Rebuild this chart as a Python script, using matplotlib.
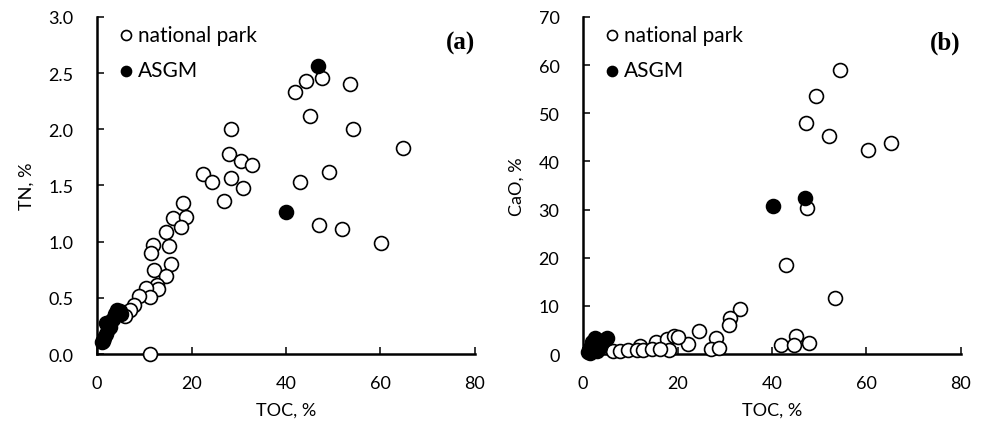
import matplotlib
matplotlib.use("Agg")
import matplotlib.pyplot as plt
import numpy as np

plt.rcParams['font.family'] = ['Lato', 'DejaVu Sans']

# ---- panel (a): TN vs TOC ----
tn_park_toc = [11.2, 18.2, 16.1, 18.9, 17.8, 14.5, 15.2, 11.9, 11.5, 15.7, 12.0, 14.7,
               12.8, 12.9, 10.3, 11.3, 8.8, 7.8, 6.9, 6.0, 22.5, 24.3, 28.4, 30.8,
               26.9, 28.4, 27.9, 30.5, 32.9, 41.8, 44.3, 47.6, 53.5, 45.0, 54.1, 64.8,
               49.1, 42.9, 46.9, 51.9, 60.1]
tn_park = [0.00, 1.34, 1.21, 1.22, 1.13, 1.09, 0.96, 0.97, 0.90, 0.80, 0.75, 0.69,
           0.61, 0.58, 0.59, 0.51, 0.52, 0.44, 0.39, 0.34, 1.60, 1.53, 1.57, 1.48,
           1.36, 2.00, 1.78, 1.72, 1.68, 2.33, 2.43, 2.46, 2.40, 2.12, 2.00, 1.83,
           1.62, 1.53, 1.15, 1.11, 0.99]
tn_asgm_toc = [1.0, 1.2, 1.5, 2.0, 2.0, 2.3, 2.5, 2.8, 3.0, 3.3, 3.8, 4.2, 4.8, 5.0, 40.1, 46.8]
tn_asgm = [0.11, 0.12, 0.14, 0.18, 0.28, 0.22, 0.27, 0.24, 0.29, 0.31, 0.36, 0.39, 0.38, 0.36, 1.26, 2.56]

# ---- panel (b): CaO vs TOC ----
cao_park_toc = [54.3, 49.3, 47.2, 52.1, 60.4, 65.1, 47.4, 43.0, 53.4, 33.2, 31.1, 30.8,
                24.5, 22.2, 28.1, 27.1, 28.7, 42.0, 45.1, 44.6, 47.9, 15.4, 17.8, 19.2,
                12.1, 18.1, 6.4, 7.8, 9.5, 11.4, 12.8, 14.7, 16.2, 20.0]
cao_park = [59.0, 53.5, 47.9, 45.3, 42.4, 43.8, 30.3, 18.5, 11.6, 9.3, 7.4, 6.0,
            4.8, 2.1, 3.4, 1.0, 1.2, 1.9, 3.7, 1.9, 2.3, 2.4, 3.1, 3.8,
            1.7, 0.9, 0.6, 0.7, 0.8, 0.9, 0.8, 1.0, 1.1, 3.5]
cao_asgm_toc = [1.0, 1.5, 1.5, 2.0, 2.0, 2.5, 3.0, 3.0, 3.5, 4.0, 4.5, 5.0, 40.3, 46.9]
cao_asgm = [0.5, 0.3, 1.2, 2.5, 0.8, 3.3, 2.0, 0.6, 1.5, 2.5, 3.0, 3.3, 30.7, 32.3]

fig = plt.figure(figsize=(9.84, 4.31), dpi=100)
ax1 = fig.add_axes([0.0986, 0.1763, 0.3841, 0.782])
ax2 = fig.add_axes([0.5925, 0.1763, 0.3841, 0.782])

ms = 100

def style(ax, ylim, yticks, ylabel, fmt, tag):
    ax.set_xlim(0, 80)
    ax.set_ylim(*ylim)
    ax.set_xticks([0, 20, 40, 60, 80])
    ax.set_yticks(yticks)
    ax.set_yticklabels([fmt.format(v) for v in yticks])
    for s in ['top', 'right']:
        ax.spines[s].set_visible(False)
    for s in ['left', 'bottom']:
        ax.spines[s].set_linewidth(1.8)
    ax.tick_params(direction='in', length=5, width=1.1, labelsize=13)
    ax.tick_params(axis='x', pad=15)
    ax.tick_params(axis='y', pad=17)
    ax.set_xlabel('TOC, %', fontsize=13, labelpad=8)
    ax.set_ylabel(ylabel, fontsize=13, labelpad=10)
    ax.text(1.0, 0.925, tag, transform=ax.transAxes, ha='right', va='center',
            fontsize=18, fontweight='bold', family='Liberation Serif')
    ax.legend(loc='upper left', bbox_to_anchor=(0.0, 1.02), frameon=False,
              fontsize=15, handletextpad=-0.15, handlelength=1.4, labelspacing=0.75,
              markerscale=0.72, borderaxespad=0.3)

ax1.scatter(tn_park_toc, tn_park, s=ms, facecolor='white', edgecolor='black',
            linewidth=1.2, clip_on=False, zorder=3, label='national park')
ax1.scatter(tn_asgm_toc, tn_asgm, s=ms, facecolor='black', edgecolor='black',
            linewidth=1.2, clip_on=False, zorder=4, label='ASGM')
style(ax1, (0, 3.0), [0, 0.5, 1.0, 1.5, 2.0, 2.5, 3.0], 'TN, %', '{:.1f}', '(a)')

ax2.scatter(cao_park_toc, cao_park, s=ms, facecolor='white', edgecolor='black',
            linewidth=1.2, clip_on=False, zorder=3, label='national park')
ax2.scatter(cao_asgm_toc, cao_asgm, s=ms, facecolor='black', edgecolor='black',
            linewidth=1.2, clip_on=False, zorder=4, label='ASGM')
style(ax2, (0, 70), [0, 10, 20, 30, 40, 50, 60, 70], 'CaO, %', '{:.0f}', '(b)')

fig.savefig('out.png', dpi=100)
